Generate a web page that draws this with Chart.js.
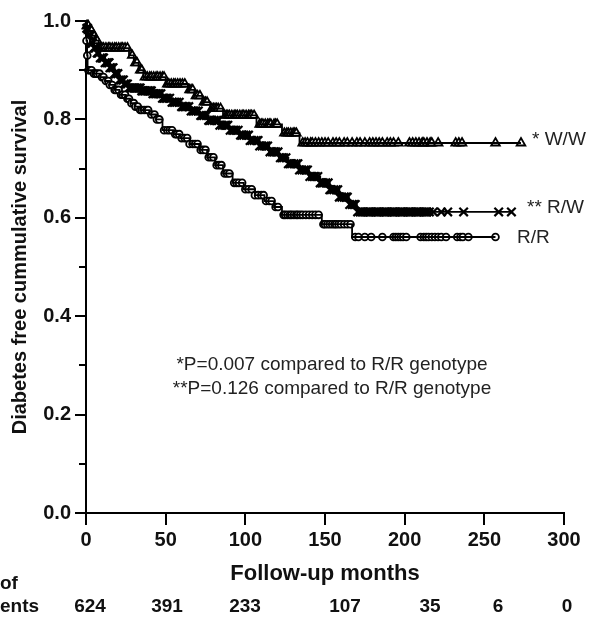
<!DOCTYPE html>
<html>
<head>
<meta charset="utf-8">
<script src="https://cdn.jsdelivr.net/npm/chart.js@4.4.0/dist/chart.umd.min.js"></script>
<style>
  html, body { margin: 0; padding: 0; background: #fff; }
</style>
</head>
<body>
<canvas id="kmChart" width="598" height="617"></canvas>
<script>
'use strict';

var FONT = 'Arial, "Liberation Sans", Helvetica, sans-serif';

// axis ticks
var monthTicks = [0, 50, 100, 150, 200, 250, 300];
var survivalTicks = [0, 0.2, 0.4, 0.6, 0.8, 1.0];
var survivalMinorTicks = [0.1, 0.3, 0.5, 0.7, 0.9];

// W/W genotype (triangles)
var wwStepMonths = [0, 0.5, 2, 4, 6, 8, 27, 30, 33, 36, 50, 64, 68, 73, 78, 86, 107, 123, 134];
var wwStepSurv = [1.0, 0.99, 0.98, 0.97, 0.96, 0.945, 0.93, 0.915, 0.90, 0.886, 0.872, 0.86, 0.848, 0.835, 0.822, 0.808, 0.79, 0.772, 0.752];
var wwEndMonth = 273;
var wwCensorMonths = [0.5, 1, 1.5, 2, 3, 3.5, 5, 6, 7, 9, 10, 11, 12.5, 14, 15, 16.5, 18, 19, 20.5, 22,
  23, 24.5, 26, 29, 31, 32, 34, 35, 37, 38.5, 40, 41, 42.5, 44, 45, 46.5, 48, 49, 51, 52, 53.5, 55, 56,
  57.5, 59, 60.5, 62, 65, 66, 67, 69, 70, 71.5, 74, 75, 76, 79, 80, 81, 82, 83, 84.5, 88, 89, 90, 91.5,
  93, 94, 95, 96.5, 98, 99, 100.5, 102, 103, 104, 105.5, 109, 110, 111, 112.5, 114, 115, 116, 118, 119,
  120, 124.5, 126, 127, 128.5, 130, 131, 132, 136, 137.5, 139, 141, 142, 144, 146, 148, 150, 152, 155,
  157, 159, 162, 164, 167, 170, 172, 175, 178, 180, 182, 184, 186, 189, 191, 193, 196, 203, 205, 207,
  209, 211, 212, 214, 216, 217, 221, 232, 234, 236, 257, 273];

// R/W genotype (crosses)
var rwStepMonths = [0, 0.5, 1.5, 3, 5, 7, 9, 12, 15, 18, 21, 24, 27, 35, 42, 48, 54, 60, 66, 71, 77,
  84, 90, 96, 103, 109, 115, 121, 127, 134, 140, 147, 153, 159, 165, 170];
var rwStepSurv = [1.0, 0.985, 0.97, 0.955, 0.945, 0.935, 0.925, 0.915, 0.905, 0.893, 0.88, 0.872, 0.864,
  0.858, 0.852, 0.843, 0.835, 0.826, 0.817, 0.808, 0.798, 0.788, 0.778, 0.768, 0.757, 0.746, 0.734,
  0.722, 0.71, 0.697, 0.684, 0.671, 0.657, 0.642, 0.627, 0.612];
var rwEndMonth = 267;
var rwCensorMonths = [0.5, 1, 1.5, 2, 2.5, 3, 3.5, 4, 5, 5.5, 6, 7, 7.5, 8, 9, 10, 10.5, 11, 12, 13, 14,
  14.5, 15, 16, 17, 18, 18.5, 19, 20, 21, 22, 23, 23.5, 24, 25, 26, 27, 28, 29, 30, 30.5, 31, 32, 33, 34,
  35, 36, 37, 38, 39, 40, 41, 42, 43, 44, 45, 46, 47, 48, 49, 50, 51, 52.5, 54, 55, 56, 57, 58.5, 60,
  61, 62, 63, 64.5, 66, 67, 68, 69, 70.5, 72, 73, 74, 75.5, 77, 78, 79, 80.5, 82, 83, 84, 85.5, 87, 88,
  89, 90.5, 92, 93, 94, 95.5, 97, 98, 99, 100.5, 102, 103, 104, 105.5, 107, 108, 109, 110.5, 112, 113,
  114, 115.5, 117, 118, 119, 120.5, 122, 123, 124, 125.5, 127, 128, 129, 130.5, 132, 133, 134, 135.5,
  137, 138, 139, 140.5, 142, 143, 144, 145.5, 147, 148, 149, 150.5, 152, 153, 154, 155.5, 157, 158, 159,
  160.5, 162, 163, 164, 165.5, 167, 168, 169, 170.5, 172, 173, 174, 175.5, 177, 178, 179, 180.5, 182,
  183, 184, 185.5, 187, 188, 189, 190.5, 192, 193, 194, 195.5, 197, 198, 199, 200.5, 202, 203, 204,
  205.5, 207, 208, 209, 210.5, 212, 213, 214, 215.5, 218, 223, 227, 237, 259, 267];

// R/R genotype (circles)
var rrStepMonths = [0, 0.3, 0.7, 1, 5, 9, 12, 15, 18, 21, 25, 28, 31, 34, 40, 44, 48, 55, 59, 65, 71,
  76, 81, 86, 92, 99, 106, 112, 118, 123, 148, 167];
var rrStepSurv = [1.0, 0.96, 0.93, 0.90, 0.893, 0.886, 0.878, 0.87, 0.86, 0.85, 0.842, 0.833, 0.826,
  0.819, 0.81, 0.8, 0.778, 0.77, 0.762, 0.75, 0.738, 0.723, 0.707, 0.69, 0.671, 0.658, 0.646, 0.634,
  0.622, 0.606, 0.587, 0.561];
var rrEndMonth = 257;
var rrCensorMonths = [0.3, 0.8, 1.5, 2.5, 3.5, 5, 6, 7, 8.5, 10, 11, 12.5, 14, 15, 16.5, 18, 19, 20.5, 22,
  23, 24.5, 26, 27, 28.5, 30, 31, 32.5, 34, 35, 36.5, 38, 39, 41, 43, 44.5, 46, 49, 51, 52.5, 54, 56, 57,
  58.5, 60, 62, 63.5, 65, 67, 68.5, 70, 72, 73.5, 75, 77, 78.5, 80, 82, 83.5, 85, 87, 88.5, 90, 93, 94.5,
  96, 98, 100, 102, 104, 106, 108, 110, 111.5, 113, 115, 116.5, 119, 120.5, 124, 125, 126.5, 128, 129,
  130.5, 132, 133, 134.5, 136, 138, 140, 142, 144, 146, 149, 150, 151.5, 153, 154.5, 156, 157, 158.5,
  160, 162, 164, 166, 169, 171, 175, 179, 186, 193, 194.5, 196, 197.5, 199, 201, 210, 212, 213.5, 215,
  217, 219, 221, 223, 226, 233, 235, 236.5, 240, 257];

var groupLabels = ['* W/W', '** R/W', 'R/R'];
var atRiskCounts = [624, 391, 233, 107, 35, 6, 0];
var pValueNotes = ['*P=0.007 compared to R/R genotype', '**P=0.126 compared to R/R genotype'];

function levelAt(months, surv, t) {
  var level = surv[0];
  for (var i = 0; i < months.length; i++) {
    if (months[i] <= t) level = surv[i];
  }
  return level;
}

function stepLine(months, surv, endMonth) {
  var pts = months.map(function (m, i) { return {x: m, y: surv[i]}; });
  pts.push({x: endMonth, y: surv[surv.length - 1]});
  return pts;
}

function censorPoints(months, surv, censor) {
  return censor.map(function (t) { return {x: t, y: levelAt(months, surv, t)}; });
}

function curveDataset(data) {
  return {
    data: data, stepped: true, borderColor: '#000', borderWidth: 1.8,
    pointRadius: 0, fill: false, clip: false
  };
}

function markDataset(data, style, radius, width) {
  return {
    data: data, showLine: false, pointStyle: style, pointRadius: radius,
    pointBorderColor: '#000', pointBackgroundColor: '#fff', pointBorderWidth: width, clip: false
  };
}

// extra texts: minor ticks, titles, labels, numbers at risk
var extrasPlugin = {
  id: 'extras',
  afterDraw: function (chart) {
    var ctx = chart.ctx;
    var ys = chart.scales.y;
    var area = chart.chartArea;
    ctx.save();

    ctx.strokeStyle = '#000';
    ctx.lineWidth = 2;
    survivalMinorTicks.forEach(function (v) {
      var py = Math.round(ys.getPixelForValue(v));
      ctx.beginPath();
      ctx.moveTo(area.left - 7, py);
      ctx.lineTo(area.left, py);
      ctx.stroke();
    });

    ctx.fillStyle = '#111';
    ctx.textBaseline = 'middle';

    ctx.save();
    ctx.translate(20, (area.top + area.bottom) / 2);
    ctx.rotate(-Math.PI / 2);
    ctx.textAlign = 'center';
    ctx.font = 'bold 20px ' + FONT;
    ctx.fillText('Diabetes free cummulative survival', 0, 0);
    ctx.restore();

    ctx.fillStyle = '#222';
    ctx.font = '19px ' + FONT;
    ctx.textAlign = 'left';
    ctx.fillText(groupLabels[0], 532, 140);
    ctx.fillText(groupLabels[1], 527, 208);
    ctx.fillText(groupLabels[2], 517, 238);

    ctx.textAlign = 'center';
    ctx.fillText(pValueNotes[0], 332, 365);
    ctx.fillText(pValueNotes[1], 332, 389);

    ctx.fillStyle = '#111';
    ctx.font = 'bold 22px ' + FONT;
    ctx.fillText('Follow-up months', (area.left + area.right) / 2, 574);

    ctx.font = 'bold 19px ' + FONT;
    var riskX = [90, 167, 245, 345, 430, 498, 567];
    atRiskCounts.forEach(function (n, i) {
      ctx.fillText(String(n), riskX[i], 607);
    });
    ctx.textAlign = 'left';
    ctx.fillText('of', 0, 584);
    ctx.fillText('ents', 0, 607);

    ctx.restore();
  }
};

var ctx = document.getElementById('kmChart');
var kmChart = new Chart(ctx, {
  type: 'line',
  data: {
    datasets: [
      curveDataset(stepLine(rrStepMonths, rrStepSurv, rrEndMonth)),
      curveDataset(stepLine(rwStepMonths, rwStepSurv, rwEndMonth)),
      curveDataset(stepLine(wwStepMonths, wwStepSurv, wwEndMonth)),
      markDataset(censorPoints(rrStepMonths, rrStepSurv, rrCensorMonths), 'circle', 3.4, 1.8),
      markDataset(censorPoints(rwStepMonths, rwStepSurv, rwCensorMonths), 'crossRot', 6, 2.2),
      markDataset(censorPoints(wwStepMonths, wwStepSurv, wwCensorMonths), 'triangle', 5, 1.8)
    ]
  },
  options: {
    responsive: false,
    animation: false,
    devicePixelRatio: 1,
    layout: { padding: { top: 21, right: 34, bottom: 0, left: 0 } },
    plugins: { legend: { display: false }, tooltip: { enabled: false } },
    scales: {
      x: {
        type: 'linear', min: 0, max: 300,
        afterFit: function (scale) { scale.height = 104; },
        afterBuildTicks: function (scale) {
          scale.ticks = monthTicks.map(function (v) { return {value: v}; });
        },
        ticks: {
          color: '#111', padding: 3, maxRotation: 0, autoSkip: false,
          font: { family: FONT, size: 20, weight: 'bold' }
        },
        grid: { drawOnChartArea: false, drawTicks: true, tickLength: 12, color: '#000', lineWidth: 2 },
        border: { color: '#000', width: 2 }
      },
      y: {
        type: 'linear', min: 0, max: 1,
        afterFit: function (scale) { scale.width = 86; },
        afterBuildTicks: function (scale) {
          scale.ticks = survivalTicks.map(function (v) { return {value: v}; });
        },
        ticks: {
          color: '#111', padding: 4, autoSkip: false,
          font: { family: FONT, size: 20, weight: 'bold' },
          callback: function (value) { return Number(value).toFixed(1); }
        },
        grid: { drawOnChartArea: false, drawTicks: true, tickLength: 11, color: '#000', lineWidth: 2 },
        border: { color: '#000', width: 2 }
      }
    }
  },
  plugins: [extrasPlugin]
});
</script>
</body>
</html>
